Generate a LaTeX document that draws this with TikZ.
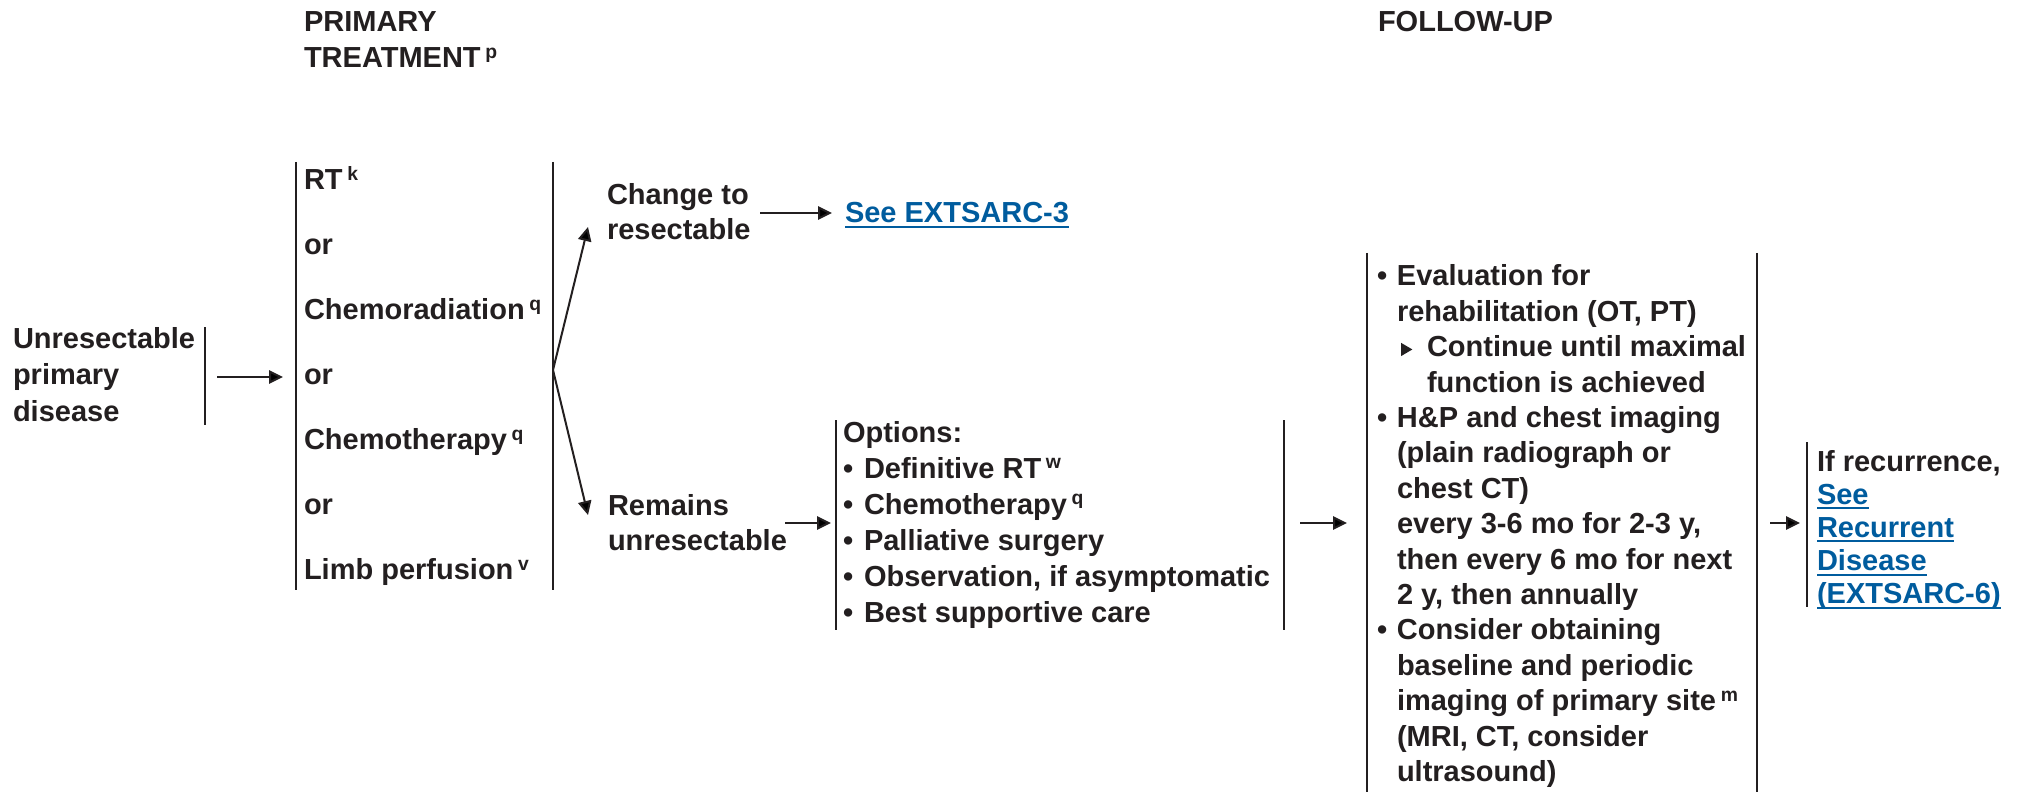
\documentclass[tikz,border=0pt]{standalone}
\usepackage{fontspec}
\setmainfont{Liberation Sans}
\usetikzlibrary{arrows.meta}

\definecolor{ink}{HTML}{231F20}
\definecolor{linkblue}{HTML}{005C9E}

% footnote letter, raised and small
\newcommand\supx[1]{\kern3.5pt\raisebox{7pt}{\fontsize{14.5pt}{14.5pt}\selectfont #1}}
% underlined cross-reference
\newcommand\lnk[1]{\setbox0=\hbox{\color{linkblue}#1}\rlap{\color{linkblue}\vrule width\wd0 height -2.2pt depth 3.7pt}\box0}
% block of lines with a given line pitch; baseline = first line
\newcommand\blk[2]{\fontsize{21.75pt}{#1}\selectfont\begin{tabular}[t]{@{}l@{}}#2\end{tabular}}
% bullet in a box of given width
\newcommand\bul[1]{\makebox[#1][l]{•}}
% small sub-bullet triangle
\newcommand\tri{\tikz[baseline=0pt]\fill[ink] (0pt,0.5pt) -- (0pt,10.5pt) -- (8.5pt,5.5pt) -- cycle;}

\begin{document}
\begin{tikzpicture}[x=0.75pt, y=-0.75pt,
  every node/.style={inner sep=0pt, outer sep=0pt, anchor=base west, text=ink, font=\bfseries},
  bar/.style={draw=ink, line width=1.5pt},
  conn/.style={draw=ink, line width=1.5pt, -{Triangle[length=10.5pt,width=10pt]}}]

\fill[white] (0,0) rectangle (2018,795);
\useasboundingbox (0,0) rectangle (2018,795);

% column headings
\node (hdrA) at (304,32) {\blk{26.55pt}{PRIMARY\\TREATMENT\supx{p}}};
\node (hdrB) at (1378,32) {\blk{26.55pt}{FOLLOW-UP}};

% starting condition
\node (unres) at (13,348) {\blk{27.5pt}{Unresectable\\primary\\disease}};
\draw[bar] (205,327) -- (205,425);

% primary treatment choices
\node (prim) at (304,190) {\blk{48.75pt}{RT\supx{k}\\or\\Chemoradiation\supx{q}\\or\\Chemotherapy\supx{q}\\or\\Limb perfusion\supx{v}}};
\draw[bar] (296,162) -- (296,590);
\draw[bar] (553,162) -- (553,590);

% outcomes
\node (chg) at (607,205) {\blk{26.25pt}{Change to\\resectable}};
\node (see3) at (845,223) {\blk{26.55pt}{\lnk{See EXTSARC-3}}};
\node (rem) at (608,515) {\blk{26.25pt}{Remains\\unresectable}};

% options for unresectable disease
\node (opts) at (843,442) {\blk{27pt}{Options:\\
  \bul{15.75pt}Definitive RT\supx{w}\\
  \bul{15.75pt}Chemotherapy\supx{q}\\
  \bul{15.75pt}Palliative surgery\\
  \bul{15.75pt}Observation, if asymptomatic\\
  \bul{15.75pt}Best supportive care}};
\draw[bar] (836,420) -- (836,630);
\draw[bar] (1284,420) -- (1284,630);

% follow-up
\node (fu) at (1377,286) {\blk{26.55pt}{%
  \bul{15pt}Evaluation for\\
  \hspace*{15pt}rehabilitation (OT, PT)\\
  \hspace*{18pt}\makebox[19.5pt][l]{\tri}Continue until maximal\\
  \hspace*{37.5pt}function is achieved\\
  \bul{15pt}H\&P and chest imaging\\
  \hspace*{15pt}(plain radiograph or\\
  \hspace*{15pt}chest CT)\\
  \hspace*{15pt}every 3-6 mo for 2-3 y,\\
  \hspace*{15pt}then every 6 mo for next\\
  \hspace*{15pt}2 y, then annually\\
  \bul{15pt}Consider obtaining\\
  \hspace*{15pt}baseline and periodic\\
  \hspace*{15pt}imaging of primary site\supx{m}\\
  \hspace*{15pt}(MRI, CT, consider\\
  \hspace*{15pt}ultrasound)}};
\draw[bar] (1367,253) -- (1367,792);
\draw[bar] (1757,253) -- (1757,792);

% recurrence
\node (rec) at (1817,471) {\blk{24.9pt}{If recurrence,\\\lnk{See}\\\lnk{Recurrent}\\\lnk{Disease}\\\lnk{(EXTSARC-6)}}};
\draw[bar] (1807,442) -- (1807,607);

% connector end points
\coordinate (unres-out) at (217,377);
\coordinate (prim-in)   at (283,377);
\coordinate (fork)      at (553,370);
\coordinate (chg-in)    at (588,227);
\coordinate (rem-in)    at (588,515);
\coordinate (chg-out)   at (760,213);
\coordinate (see3-in)   at (832,213);
\coordinate (rem-out)   at (785,523);
\coordinate (opts-in)   at (831,523);
\coordinate (opts-out)  at (1300,523);
\coordinate (fu-in)     at (1347,523);
\coordinate (fu-out)    at (1770,523);
\coordinate (rec-in)    at (1800,523);

\draw[conn] (unres-out) -- (prim-in);
\draw[conn] (fork) -- (chg-in);
\draw[conn] (fork) -- (rem-in);
\draw[conn] (chg-out) -- (see3-in);
\draw[conn] (rem-out) -- (opts-in);
\draw[conn] (opts-out) -- (fu-in);
\draw[conn] (fu-out) -- (rec-in);
\end{tikzpicture}
\end{document}
